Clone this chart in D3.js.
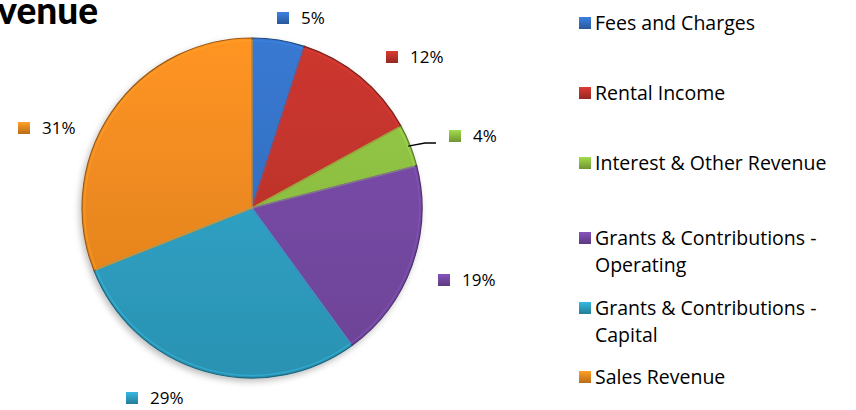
<!DOCTYPE html>
<html>
<head>
<meta charset="utf-8">
<script src="https://cdnjs.cloudflare.com/ajax/libs/d3/7.8.5/d3.min.js"></script>
<style>
  body { margin: 0; background: #fff; }
  svg { display: block; font-family: "Open Sans", sans-serif; }
</style>
</head>
<body>
<div id="chart"></div>
<script>
// 数据
const categories = ['Fees and Charges', 'Rental Income', 'Interest & Other Revenue',
  'Grants & Contributions - Operating', 'Grants & Contributions - Capital', 'Sales Revenue'];
const legendLines = [['Fees and Charges'], ['Rental Income'], ['Interest & Other Revenue'],
  ['Grants & Contributions -', 'Operating'], ['Grants & Contributions -', 'Capital'], ['Sales Revenue']];
const values = [5, 12, 4, 19, 29, 31];
const colors = ['#3471c4', '#bf332c', '#8dbf42', '#7549a3', '#2fa0c3', '#ee8a20'];
// 标签位置（标记左上角）
const labelPos = [[277, 12], [386, 51], [449, 130], [438, 274], [126, 392], [18, 122]];
const legendY = [23, 93, 163, 238, 308, 377];

const width = 856, height = 410;
const cx = 252, cy = 208, r = 170;

const svg = d3.select('#chart').append('svg')
  .attr('width', width)
  .attr('height', height);

const defs = svg.append('defs');

// 阴影
const shadow = defs.append('filter').attr('id', 'shadow')
  .attr('x', '-10%').attr('y', '-10%').attr('width', '125%').attr('height', '125%');
shadow.append('feDropShadow')
  .attr('dx', -2).attr('dy', 3).attr('stdDeviation', 3)
  .attr('flood-color', '#000').attr('flood-opacity', 0.25);

// 每个扇区的渐变
colors.forEach((c, i) => {
  const grad = defs.append('linearGradient').attr('id', 'grad' + i)
    .attr('gradientUnits', 'userSpaceOnUse')
    .attr('x1', 0).attr('y1', -r).attr('x2', 0).attr('y2', r);
  grad.append('stop').attr('offset', '0%').attr('stop-color', d3.color(c).brighter(0.2));
  grad.append('stop').attr('offset', '100%').attr('stop-color', d3.color(c).darker(0.25));

  const mg = defs.append('linearGradient').attr('id', 'mgrad' + i)
    .attr('x1', 0).attr('y1', 0).attr('x2', 0).attr('y2', 1);
  mg.append('stop').attr('offset', '0%').attr('stop-color', d3.color(c).brighter(0.4));
  mg.append('stop').attr('offset', '100%').attr('stop-color', d3.color(c).darker(0.7));
});

// 标题（左侧被截断）
svg.append('text')
  .attr('x', 98)
  .attr('y', 24)
  .attr('text-anchor', 'end')
  .style('font-family', 'Lato, sans-serif')
  .style('font-weight', 900)
  .style('font-size', '37px')
  .style('fill', '#000')
  .text('Revenue');

// 饼图
const pie = d3.pie().sort(null).value(d => d);
const arcs = pie(values);
const arc = d3.arc().innerRadius(0).outerRadius(r);

const g = svg.append('g')
  .attr('transform', `translate(${cx},${cy})`)
  .attr('filter', 'url(#shadow)');

g.selectAll('path')
  .data(arcs)
  .enter()
  .append('path')
  .attr('d', arc)
  .style('fill', (d, i) => `url(#grad${i})`)
  .style('stroke', (d, i) => d3.color(colors[i]).darker(1.2))
  .style('stroke-width', 1.2);

// 内侧高光边
const g2 = svg.append('g').attr('transform', `translate(${cx},${cy})`);
g2.selectAll('path')
  .data(arcs)
  .enter()
  .append('path')
  .attr('d', d3.arc().innerRadius(0).outerRadius(r - 2.5))
  .style('fill', 'none')
  .style('stroke', (d, i) => d3.color(colors[i]).brighter(0.5))
  .style('stroke-width', 1.5)
  .style('opacity', 0.5);

// 4% 引导线
const a4 = arcs[2];
const mid4 = (a4.startAngle + a4.endAngle) / 2;
const p0 = [cx + Math.sin(mid4) * (r - 2), cy - Math.cos(mid4) * (r - 2)];
svg.append('path')
  .attr('d', d3.line()([p0, [425, 143], [436, 143]]))
  .style('fill', 'none')
  .style('stroke', '#000')
  .style('stroke-width', 1.3);

// 百分比标签
const labels = svg.append('g');
arcs.forEach((d, i) => {
  const [mx, my] = labelPos[i];
  labels.append('rect')
    .attr('x', mx).attr('y', my)
    .attr('width', 12).attr('height', 12)
    .style('fill', `url(#mgrad${i})`);
  labels.append('text')
    .attr('x', mx + 24)
    .attr('y', my + 6)
    .attr('dy', '0.35em')
    .style('font-size', '17px')
    .style('fill', '#000')
    .text(Math.round((d.endAngle - d.startAngle) / (2 * Math.PI) * 100) + '%');
});

// 图例
const legend = svg.append('g');
categories.forEach((c, i) => {
  const y = legendY[i];
  legend.append('rect')
    .attr('x', 579).attr('y', y - 6)
    .attr('width', 12).attr('height', 12)
    .style('fill', `url(#mgrad${i})`);
  legendLines[i].forEach((line, j) => {
    legend.append('text')
      .attr('x', 595)
      .attr('y', y + j * 27)
      .attr('dy', '0.35em')
      .style('font-size', '19.5px')
      .style('fill', '#000')
      .text(line);
  });
});
</script>
</body>
</html>
